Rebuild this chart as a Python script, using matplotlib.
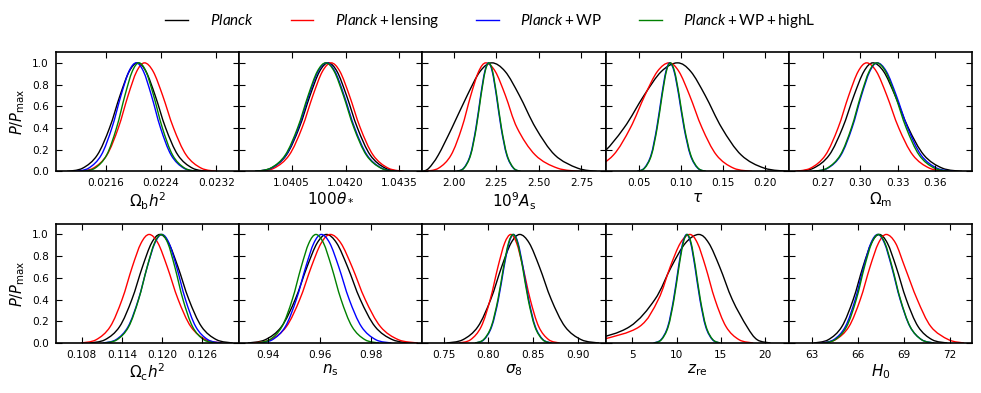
import matplotlib
matplotlib.use("Agg")
import matplotlib.pyplot as plt
import numpy as np
from matplotlib.path import Path
from matplotlib.patches import PathPatch
from matplotlib.lines import Line2D

plt.rcParams["font.family"] = "DejaVu Sans"
plt.rcParams["mathtext.fontset"] = "custom"
plt.rcParams["mathtext.rm"] = "Lato"
plt.rcParams["mathtext.it"] = "Lato:italic"

series_names = [r"$\mathit{Planck}$", r"$\mathit{Planck}+\mathrm{lensing}$",
                r"$\mathit{Planck}+\mathrm{WP}$", r"$\mathit{Planck}+\mathrm{WP}+\mathrm{highL}$"]
series_colors = ["black", "red", "blue", "green"]

# P/Pmax levels at which x positions were read (left tail -> peak -> right tail)
levels = [0, 0.03, 0.15, 0.4, 0.7, 0.92, 1.0, 0.92, 0.7, 0.4, 0.15, 0.03, 0]

# x positions for each series: Planck, +lensing, +WP, +WP+highL
ombh2 = [
    [0.02104, 0.021266, 0.021476, 0.021654, 0.021806, 0.021938, 0.02206, 0.022182, 0.022314, 0.022466, 0.022644, 0.022854, 0.02308],
    [0.021208, 0.021419, 0.021615, 0.021781, 0.021923, 0.022046, 0.02216, 0.022286, 0.022422, 0.02258, 0.022764, 0.022981, 0.023214],
    [0.021156, 0.021352, 0.021534, 0.021688, 0.02182, 0.021934, 0.02204, 0.022146, 0.02226, 0.022392, 0.022546, 0.022728, 0.022924],
    [0.021264, 0.021444, 0.021612, 0.021755, 0.021877, 0.021982, 0.02208, 0.022182, 0.022291, 0.022419, 0.022567, 0.022742, 0.02293],
]
theta = [
    [1.03948, 1.039931, 1.040351, 1.040708, 1.041013, 1.041275, 1.04152, 1.041765, 1.042027, 1.042332, 1.042689, 1.043109, 1.04356],
    [1.03956, 1.040011, 1.040431, 1.040788, 1.041093, 1.041355, 1.0416, 1.041845, 1.042107, 1.042412, 1.042769, 1.043189, 1.04364],
    [1.039498, 1.039934, 1.04034, 1.040685, 1.04098, 1.041233, 1.04147, 1.041707, 1.04196, 1.042255, 1.0426, 1.043006, 1.043442],
    [1.039478, 1.039914, 1.04032, 1.040665, 1.04096, 1.041213, 1.04145, 1.041687, 1.04194, 1.042235, 1.04258, 1.042986, 1.043422],
]
a_s = [
    [1.82, 1.855, 1.91, 1.99, 2.08, 2.155, 2.225, 2.303, 2.386, 2.482, 2.595, 2.728, 2.84],
    [1.833, 1.912, 1.985, 2.048, 2.101, 2.147, 2.19, 2.245, 2.304, 2.373, 2.48, 2.61, 2.74],
    [2.018, 2.059, 2.098, 2.131, 2.159, 2.183, 2.205, 2.227, 2.251, 2.279, 2.312, 2.351, 2.392],
    [2.02, 2.061, 2.1, 2.133, 2.161, 2.185, 2.207, 2.229, 2.253, 2.281, 2.314, 2.353, 2.394],
]
tau = [
    [-0.064, -0.0285, 0.0044, 0.0324, 0.0563, 0.0768, 0.096, 0.1119, 0.129, 0.1488, 0.172, 0.1993, 0.2286],
    [-0.0296, -0.004, 0.0198, 0.04, 0.0573, 0.0721, 0.086, 0.0978, 0.1105, 0.1253, 0.1425, 0.1628, 0.1846],
    [0.0479, 0.0565, 0.0646, 0.0714, 0.0773, 0.0823, 0.087, 0.0921, 0.0976, 0.1039, 0.1114, 0.1201, 0.1295],
    [0.0484, 0.057, 0.0651, 0.0719, 0.0778, 0.0828, 0.0875, 0.0926, 0.0981, 0.1044, 0.1119, 0.1206, 0.13],
]
omegam = [
    [0.2488, 0.2623, 0.2749, 0.2856, 0.2948, 0.3027, 0.31, 0.3186, 0.3277, 0.3384, 0.3509, 0.3656, 0.3814],
    [0.2472, 0.26, 0.2719, 0.282, 0.2906, 0.2981, 0.305, 0.3128, 0.3211, 0.3307, 0.342, 0.3553, 0.3696],
    [0.2625, 0.2738, 0.2843, 0.2932, 0.3008, 0.3074, 0.3135, 0.3208, 0.3287, 0.3379, 0.3486, 0.3612, 0.3747],
    [0.262, 0.2733, 0.2838, 0.2927, 0.3003, 0.3069, 0.313, 0.3201, 0.3278, 0.3367, 0.3471, 0.3593, 0.3725],
]
omch2 = [
    [0.10916, 0.11149, 0.11366, 0.1155, 0.11708, 0.11844, 0.1197, 0.12101, 0.1224, 0.12403, 0.12593, 0.12817, 0.13058],
    [0.1079, 0.11016, 0.11226, 0.11404, 0.11556, 0.11688, 0.1181, 0.11941, 0.1208, 0.12243, 0.12433, 0.12657, 0.12898],
    [0.11116, 0.11312, 0.11494, 0.11648, 0.1178, 0.11894, 0.12, 0.12106, 0.1222, 0.12352, 0.12506, 0.12688, 0.12884],
    [0.1114, 0.11328, 0.11503, 0.11651, 0.11779, 0.11888, 0.1199, 0.12088, 0.12193, 0.12315, 0.12458, 0.12626, 0.12806],
]
ns = [
    [0.932, 0.93877, 0.94507, 0.95041, 0.955, 0.95893, 0.9626, 0.96656, 0.9708, 0.97573, 0.9815, 0.98829, 0.99558],
    [0.93418, 0.9408, 0.94696, 0.95218, 0.95666, 0.96051, 0.9641, 0.96818, 0.97255, 0.97764, 0.98358, 0.99058, 0.9981],
    [0.93612, 0.94153, 0.94657, 0.95085, 0.95452, 0.95766, 0.9606, 0.96386, 0.96736, 0.97143, 0.97618, 0.98178, 0.9878],
    [0.93538, 0.94049, 0.94525, 0.94929, 0.95275, 0.95573, 0.9585, 0.96144, 0.96458, 0.96825, 0.97253, 0.97757, 0.98298],
]
sigma8 = [
    [0.7534, 0.7714, 0.7882, 0.8025, 0.8147, 0.8252, 0.835, 0.8456, 0.857, 0.8702, 0.8856, 0.9038, 0.9234],
    [0.7672, 0.78, 0.7919, 0.802, 0.8106, 0.8181, 0.825, 0.8315, 0.8385, 0.8467, 0.8562, 0.8674, 0.8794],
    [0.7855, 0.7949, 0.8036, 0.8111, 0.8174, 0.8229, 0.828, 0.8331, 0.8386, 0.8449, 0.8524, 0.8611, 0.8705],
    [0.785, 0.7944, 0.8031, 0.8106, 0.8169, 0.8224, 0.8275, 0.8326, 0.8381, 0.8444, 0.8519, 0.8606, 0.87],
]
zre = [
    [-3.0, 0.5, 4.7, 7.55, 9.4, 11.0, 12.5, 13.64, 14.87, 16.29, 17.95, 19.1, 20.6],
    [-1.0, 1.5, 5.8, 7.94, 9.28, 10.43, 11.5, 12.36, 13.28, 14.34, 15.59, 17.06, 18.64],
    [7.41, 8.24, 9.01, 9.66, 10.22, 10.7, 11.15, 11.6, 12.08, 12.64, 13.29, 14.06, 14.89],
    [7.46, 8.29, 9.06, 9.71, 10.27, 10.75, 11.2, 11.65, 12.13, 12.69, 13.34, 14.11, 14.94],
]
h0 = [
    [63.14, 64.08, 64.96, 65.7, 66.33, 66.88, 67.39, 67.92, 68.49, 69.15, 69.92, 70.83, 71.81],
    [63.6, 64.54, 65.42, 66.16, 66.79, 67.34, 67.85, 68.45, 69.05, 69.86, 70.75, 71.9, 72.9],
    [63.62, 64.43, 65.19, 65.83, 66.38, 66.85, 67.29, 67.73, 68.2, 68.75, 69.39, 70.15, 70.96],
    [63.73, 64.52, 65.27, 65.9, 66.43, 66.9, 67.33, 67.76, 68.23, 68.77, 69.4, 70.14, 70.93],
]

panels = [ombh2, theta, a_s, tau, omegam, omch2, ns, sigma8, zre, h0]
xlabels = [r"$\Omega_{\rm b}h^2$", r"$100\theta_*$", r"$10^9A_{\rm s}$", r"$\tau$",
           r"$\Omega_{\rm m}$", r"$\Omega_{\rm c}h^2$", r"$n_{\rm s}$", r"$\sigma_8$",
           r"$z_{\rm re}$", r"$H_0$"]
xlims = [(0.02088, 0.02353), (1.03904, 1.04414), (1.817, 2.892), (0.0106, 0.2284),
         (0.2425, 0.3894), (0.10417, 0.13155), (0.92867, 0.99985), (0.7263, 0.9308),
         (2.0, 22.66), (61.52, 73.41)]
xticks = [[0.0216, 0.0224, 0.0232], [1.0405, 1.0420, 1.0435], [2.0, 2.25, 2.5, 2.75],
          [0.05, 0.10, 0.15, 0.20], [0.27, 0.30, 0.33, 0.36], [0.108, 0.114, 0.120, 0.126],
          [0.94, 0.96, 0.98], [0.75, 0.80, 0.85, 0.90], [5, 10, 15, 20], [63, 66, 69, 72]]
xticklabels = [["0.0216", "0.0224", "0.0232"], ["1.0405", "1.0420", "1.0435"],
               ["2.00", "2.25", "2.50", "2.75"], ["0.05", "0.10", "0.15", "0.20"],
               ["0.27", "0.30", "0.33", "0.36"], ["0.108", "0.114", "0.120", "0.126"],
               ["0.94", "0.96", "0.98"], ["0.75", "0.80", "0.85", "0.90"],
               ["5", "10", "15", "20"], ["63", "66", "69", "72"]]
yticks = [0.0, 0.2, 0.4, 0.6, 0.8, 1.0]


def smooth_path(xs, ys):
    # draw a smooth (Catmull-Rom style bezier) line through the read points
    pts = np.column_stack([xs, ys]).astype(float)
    n = len(pts)
    verts = [pts[0]]
    codes = [Path.MOVETO]
    for i in range(n - 1):
        p0 = pts[max(i - 1, 0)]
        p1 = pts[i]
        p2 = pts[i + 1]
        p3 = pts[min(i + 2, n - 1)]
        verts += [p1 + (p2 - p0) / 6, p2 - (p3 - p1) / 6, p2]
        codes += [Path.CURVE4] * 3
    return Path(verts, codes)


fig = plt.figure(figsize=(9.81, 3.93), dpi=100)
gs = fig.add_gridspec(2, 5, left=0.0571, right=0.9908, top=0.8677, bottom=0.1272,
                      wspace=0, hspace=0.437)

for i, curves in enumerate(panels):
    ax = fig.add_subplot(gs[i // 5, i % 5])
    for xs, c in zip(curves, series_colors):
        ax.add_patch(PathPatch(smooth_path(xs, levels), fill=False, edgecolor=c, lw=1.0))
    ax.set_xlim(*xlims[i])
    ax.set_ylim(0, 1.1)
    ax.set_xticks(xticks[i])
    ax.set_xticklabels(xticklabels[i])
    ax.set_yticks(yticks)
    if i % 5 == 0:
        ax.set_yticklabels(["%.1f" % v for v in yticks])
        ax.set_ylabel(r"$P/P_{\rm max}$", fontsize=10.5, math_fontfamily="dejavusans", labelpad=4)
    else:
        ax.set_yticklabels([])
    ax.set_xlabel(xlabels[i], fontsize=11, math_fontfamily="dejavusans", labelpad=1.5)
    ax.tick_params(direction="in", top=True, right=True, length=4, width=0.8,
                   labelsize=7.6, pad=5)
    for sp in ax.spines.values():
        sp.set_linewidth(1.2)

handles = [Line2D([], [], color=c, lw=1.0) for c in series_colors]
fig.legend(handles, series_names, loc="center", bbox_to_anchor=(0.5, 1 - 21 / 393),
           ncol=4, frameon=False, prop={"family": "Lato", "size": 11},
           handlelength=1.5, handletextpad=1.4, columnspacing=2.4)

fig.savefig("out.png", dpi=100)
